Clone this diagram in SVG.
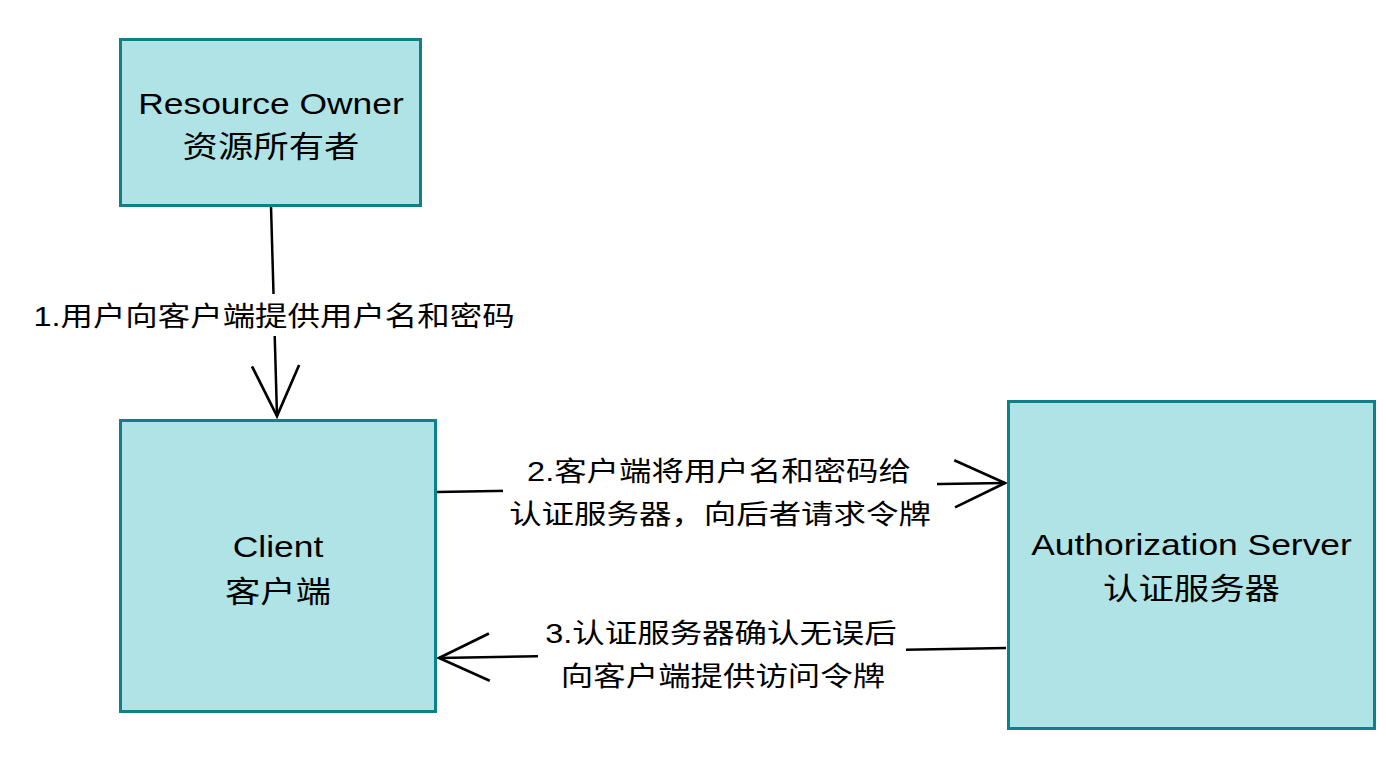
<svg xmlns="http://www.w3.org/2000/svg" width="1386" height="770" viewBox="0 0 1386 770">
<style>
.node{fill:#b0e3e6;stroke:#0e8088;stroke-width:3}
.t{font-family:"Liberation Sans","Noto Sans CJK SC",sans-serif;fill:#000;text-anchor:middle}
.nt{font-size:30px}
.lt{font-size:27.5px}
.edge{fill:none;stroke:#000;stroke-width:2.5}
.lbg{fill:#fff}
</style>
<defs>
<marker id="open" markerUnits="userSpaceOnUse" markerWidth="60" markerHeight="60" viewBox="-52 -28 56 56" refX="0" refY="0" orient="auto" overflow="visible">
<path d="M-47,-22 L0,0 L-47,22" fill="none" stroke="#000" stroke-width="2.5"/>
</marker>
</defs>
<rect width="1386" height="770" fill="#fff"/>
<g id="edges">
<g id="e1">
<path class="edge" d="M271,206 L277,416" marker-end="url(#open)"/>
<rect class="lbg" x="24" y="294" width="500" height="42"/>
<text class="t lt" transform="translate(274 326) scale(1.18 1)">1.用户向客户端提供用户名和密码</text>
</g>
<g id="e2">
<path class="edge" d="M437,492 L1005,483" marker-end="url(#open)"/>
<rect class="lbg" x="503" y="450" width="434" height="84"/>
<text class="t lt" transform="translate(719 481) scale(1.18 1)">2.客户端将用户名和密码给</text>
<text class="t lt" transform="translate(720 524) scale(1.18 1)">认证服务器，向后者请求令牌</text>
</g>
<g id="e3">
<path class="edge" d="M1006,648 L439,658" marker-end="url(#open)"/>
<rect class="lbg" x="538" y="610" width="368" height="84"/>
<text class="t lt" transform="translate(721 643) scale(1.18 1)">3.认证服务器确认无误后</text>
<text class="t lt" transform="translate(723 686) scale(1.18 1)">向客户端提供访问令牌</text>
</g>
</g>
<g id="resource-owner">
<rect class="node" x="120.5" y="39.5" width="300" height="166"/>
<text class="t nt" transform="translate(271 114) scale(1.18 1)">Resource Owner</text>
<text class="t nt" transform="translate(271 157) scale(1.18 1)">资源所有者</text>
</g>
<g id="client">
<rect class="node" x="120.5" y="420.5" width="315" height="291"/>
<text class="t nt" transform="translate(278 557) scale(1.18 1)">Client</text>
<text class="t nt" transform="translate(278 602) scale(1.18 1)">客户端</text>
</g>
<g id="authorization-server">
<rect class="node" x="1008.5" y="401.5" width="366" height="327"/>
<text class="t nt" transform="translate(1191.5 555) scale(1.18 1)">Authorization Server</text>
<text class="t nt" transform="translate(1191.5 599) scale(1.18 1)">认证服务器</text>
</g>
</svg>
